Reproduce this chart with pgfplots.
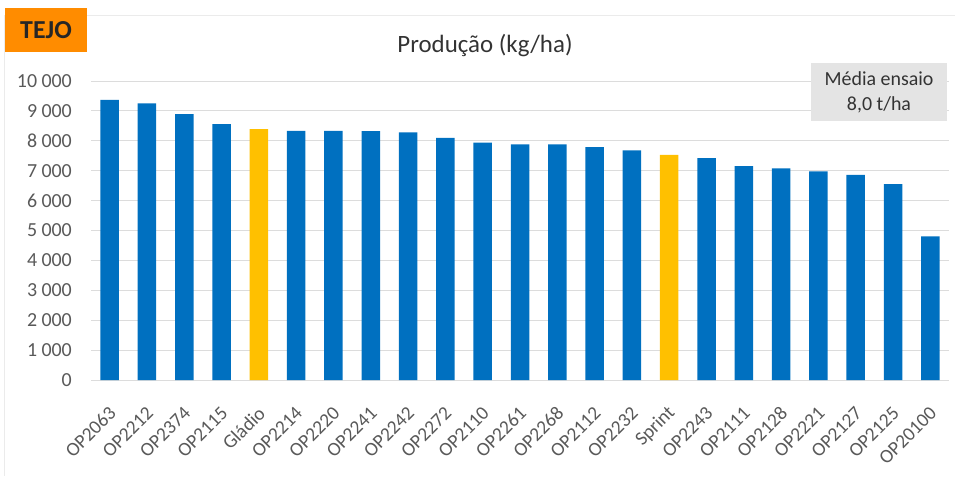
\documentclass[border=0pt]{standalone}
\usepackage{pgfplots}
\pgfplotsset{compat=1.18}
\usepackage{fontspec}
\setmainfont{Carlito}
\definecolor{barblue}{HTML}{0070C0}
\definecolor{bargold}{HTML}{FFC000}
\definecolor{tejo}{HTML}{FF8C00}
\definecolor{txt}{HTML}{595959}
\definecolor{gridc}{HTML}{DCDCDC}
\definecolor{boxgray}{HTML}{E4E4E4}
\definecolor{dark}{HTML}{333333}
\pgfplotstableread{
x y
0 9370
1 9250
2 8890
3 8560
5 8330
6 8330
7 8320
8 8280
9 8100
10 7940
11 7880
12 7880
13 7790
14 7680
16 7420
17 7150
18 7080
19 6980
20 6860
21 6550
22 4800
}\blue
\pgfplotstableread{
x y
4 8390
15 7530
}\gold
\begin{document}
\begin{tikzpicture}
\useasboundingbox (0bp,0bp) rectangle (955bp,-478bp);
\draw[draw=black!8, line width=1bp] (4bp,-476bp) -- (4bp,-15bp) -- (960bp,-15bp);
\begin{axis}[
  at={(91bp,-380bp)}, anchor=south west,
  scale only axis, width=858bp, height=299bp,
  xmin=-0.5, xmax=22.5, ymin=0, ymax=10000,
  axis line style={draw=none},
  major tick length=0pt,
  ymajorgrids, grid style={gridc, line width=1bp},
  ytick={0,1000,...,10000},
  scaled y ticks=false,
  /pgf/number format/assume math mode=true,
  /pgf/number format/1000 sep={\kern0.22em},
  yticklabel style={font=\fontsize{20}{24}\selectfont, text=txt, anchor=east, inner sep=0pt, xshift=-19bp},
  xtick={0,...,22},
  xticklabels={OP2063,OP2212,OP2374,OP2115,Gládio,OP2214,OP2220,OP2241,OP2242,OP2272,OP2110,OP2261,OP2268,OP2112,OP2232,Sprint,OP2243,OP2111,OP2128,OP2221,OP2127,OP2125,OP20100},
  xticklabel style={font=\fontsize{19.5}{24}\selectfont, text=txt, xshift=3bp, yshift=-30bp, rotate=45, anchor=east, inner sep=0pt},
]
\addplot[ybar, bar width=18.5bp, fill=barblue, draw=none] table[x=x,y=y] {\blue};
\addplot[ybar, bar width=18.5bp, fill=bargold, draw=none] table[x=x,y=y] {\gold};
\end{axis}
\node[font=\fontsize{25}{30}\selectfont, text=dark] at (485bp,-46bp) {Produção (kg/ha)};
\fill[tejo] (5bp,-8bp) rectangle (87bp,-52bp);
\node[font=\fontsize{26}{30}\selectfont\bfseries, text=black!85] at (46bp,-30bp) {TEJO};
\fill[boxgray] (811bp,-63bp) rectangle (947bp,-121bp);
\node[font=\fontsize{20}{25}\selectfont, text=dark, align=center] at (879bp,-92bp) {Média ensaio\\8,0 t/ha};
\end{tikzpicture}
\end{document}
